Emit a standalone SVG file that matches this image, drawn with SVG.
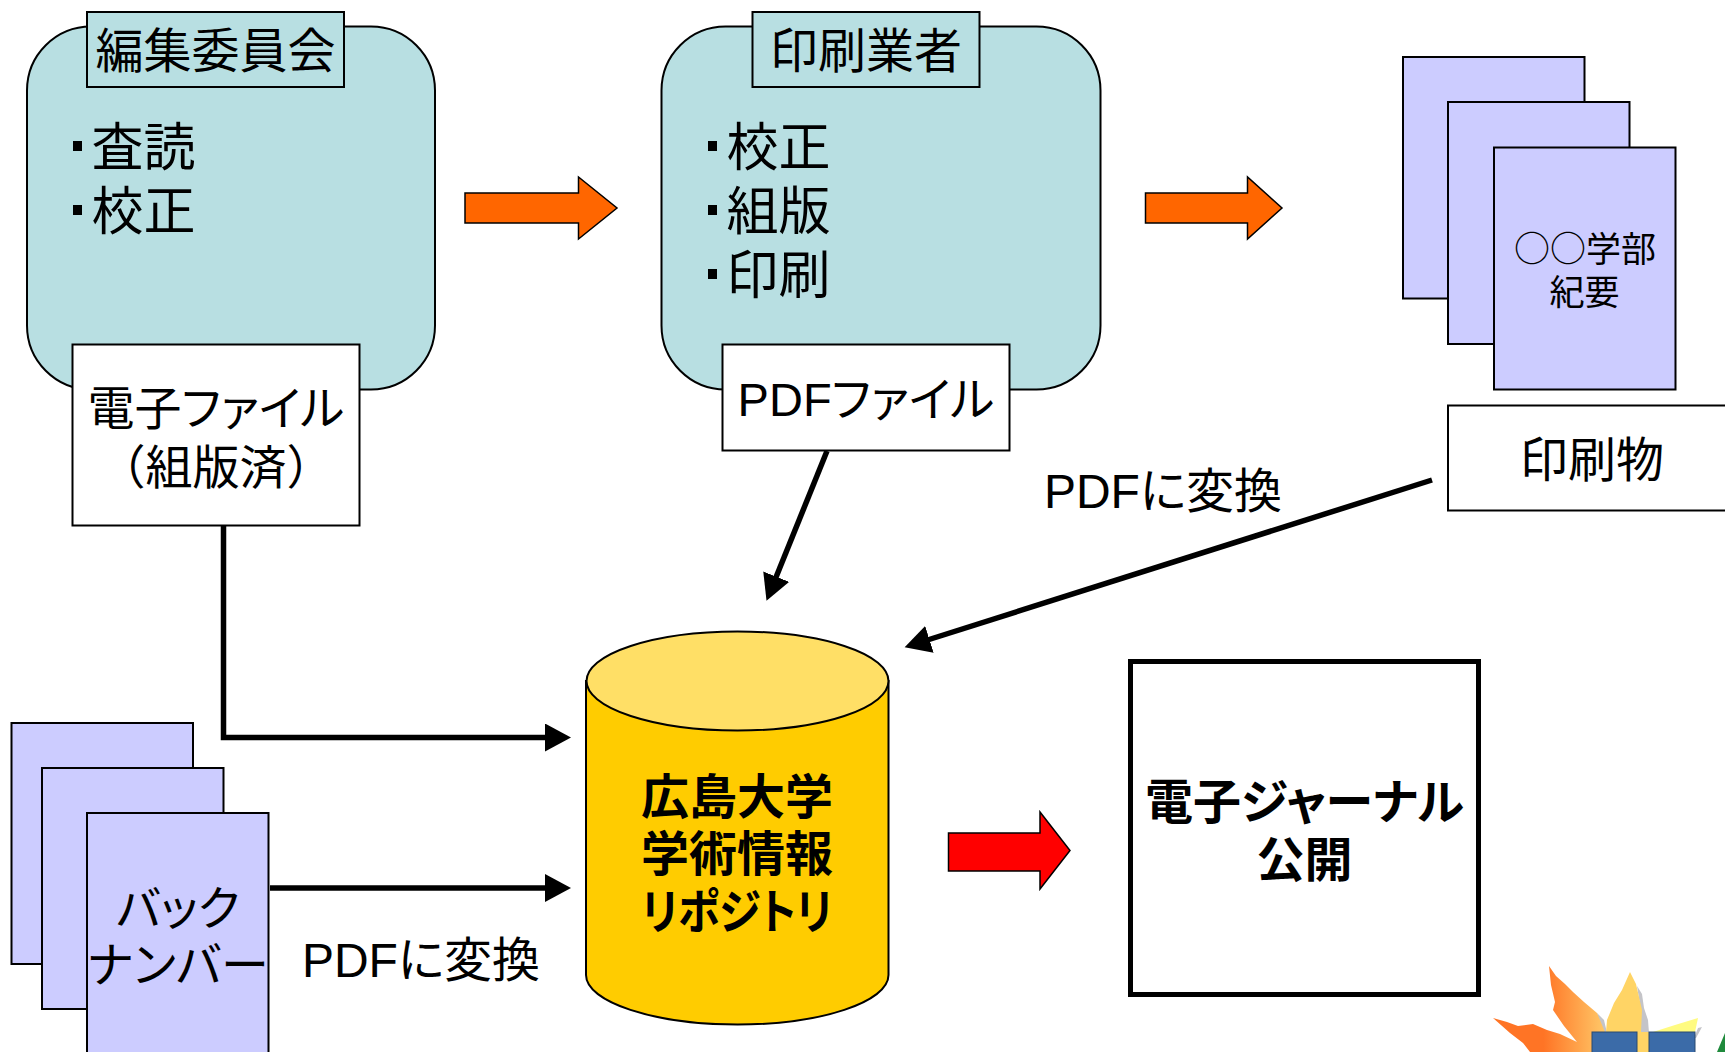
<svg xmlns="http://www.w3.org/2000/svg" width="1725" height="1052" viewBox="0 0 1725 1052">
<style>
text{font-family:"Liberation Sans","Noto Sans CJK JP",sans-serif;fill:#000;font-size:48px;font-feature-settings:"palt";text-anchor:middle}
.l{text-anchor:start;font-size:52px}
.f{font-size:47px}
.n{font-feature-settings:normal}
.b{font-weight:700;font-family:"Noto Sans CJK JP",sans-serif}
.s{font-size:35px;font-family:"Noto Sans CJK JP",sans-serif}
.c{font-size:36px;font-feature-settings:normal}
.teal{fill:#B8DFE2;stroke:#000;stroke-width:2}
.wh{fill:#fff;stroke:#000;stroke-width:2}
.pg{fill:#CCCCFF;stroke:#000;stroke-width:2}
.orange{fill:#FF6600;stroke:#000;stroke-width:1.5}
.conn{fill:none;stroke:#000;stroke-width:5.500}
.bul{fill:#000}
</style>
<defs>
<marker id="ah" markerUnits="userSpaceOnUse" markerWidth="30" markerHeight="30" refX="2" refY="14" orient="auto"><path d="M0 0L26 14L0 28Z" fill="#000"/></marker>
<linearGradient id="lf" x1="0" x2="1" y1="0" y2="0"><stop offset="0.45" stop-color="#FF7425"/><stop offset="1" stop-color="#FFC868"/></linearGradient>
</defs>
<g id="connectors">
<path class="conn" d="M223.500 526V737.500H547" marker-end="url(#ah)"/>
<path class="conn" d="M270 888H547" marker-end="url(#ah)"/>
<path class="conn" d="M827 451L775.500 578.500" marker-end="url(#ah)"/>
<path class="conn" d="M1432 480L927.500 640" marker-end="url(#ah)"/>
</g>
<g id="editors">
<rect class="teal" x="27" y="26.500" width="408" height="363" rx="64"/>
<rect class="teal" x="87" y="12" width="257" height="75"/>
<text x="215.500" y="68">編集委員会</text>
<rect class="bul" x="73" y="141" width="9" height="10"/>
<text class="l" x="91.500" y="166">査読</text>
<rect class="bul" x="73" y="205" width="9" height="10"/>
<text class="l" x="91.500" y="230">校正</text>
</g>
<g id="efile">
<rect class="wh" x="72.500" y="344.500" width="287" height="181"/>
<text class="f" x="216" y="425">電子ファイル</text>
<text class="f n" x="216" y="484">（組版済）</text>
</g>
<g id="arrow1"><path class="orange" d="M465 193H578.500V177L617 208L578.500 239V223H465Z"/></g>
<g id="printer">
<rect class="teal" x="661.500" y="26.500" width="439" height="363" rx="64"/>
<rect class="teal" x="752.500" y="12" width="227" height="75"/>
<text x="866" y="68">印刷業者</text>
<rect class="bul" x="708" y="141" width="9" height="10"/>
<text class="l" x="726.500" y="166">校正</text>
<rect class="bul" x="708" y="205" width="9" height="10"/>
<text class="l" x="726.500" y="230">組版</text>
<rect class="bul" x="708" y="269" width="9" height="10"/>
<text class="l" x="726.500" y="294">印刷</text>
</g>
<g id="pdffile">
<rect class="wh" x="722.500" y="344.500" width="287" height="106"/>
<text class="f" x="866" y="416">PDFファイル</text>
</g>
<g id="arrow2"><path class="orange" d="M1145.500 193H1247.500V177L1282 208L1247.500 239V223H1145.500Z"/></g>
<g id="bulletin">
<rect class="pg" x="1403" y="57" width="181.500" height="241.500"/>
<rect class="pg" x="1448" y="102" width="181.500" height="242"/>
<rect class="pg" x="1494" y="147.500" width="181.500" height="242"/>
<text class="s c" x="1585" y="262">○○<tspan class="s">学部</tspan></text>
<text class="s" x="1584.500" y="305">紀要</text>
</g>
<g id="print">
<rect class="wh" x="1448" y="405.500" width="290" height="105"/>
<text x="1592" y="477">印刷物</text>
</g>
<text id="label-pdf1" x="1163" y="508">PDFに変換</text>
<g id="repository">
<path d="M586 681V975C586 1002 654 1024.500 737.500 1024.500S888.500 1002 888.500 975V681Z" fill="#FFCC00" stroke="#000" stroke-width="2"/>
<ellipse cx="737.500" cy="681" rx="151" ry="49.500" fill="#FFDF66" stroke="#000" stroke-width="2"/>
<text class="b" x="737" y="814">広島大学</text>
<text class="b" x="737" y="871">学術情報</text>
<text class="b" x="737" y="929" textLength="191" lengthAdjust="spacingAndGlyphs">リポジトリ</text>
</g>
<g id="arrow3"><path d="M948.500 833H1040V812L1070 850.500L1040 889V871H948.500Z" fill="#FF0000" stroke="#000" stroke-width="1.500"/></g>
<g id="journal">
<rect x="1130.500" y="661.500" width="348" height="333" fill="#fff" stroke="#000" stroke-width="5"/>
<text class="b" x="1304.500" y="819">電子ジャーナル</text>
<text class="b" x="1304.500" y="877">公開</text>
</g>
<g id="backnumber">
<rect class="pg" x="11.500" y="723" width="181.500" height="241"/>
<rect class="pg" x="42" y="768" width="181.500" height="241"/>
<rect class="pg" x="87" y="813" width="181.500" height="250"/>
<text class="f" x="178" y="925">バック</text>
<text x="178" y="982">ナンバー</text>
</g>
<text id="label-pdf2" x="421" y="977">PDFに変換</text>
<path d="M1597 1013L1604 1020L1607 1033H1601Z" fill="#C4C4C8"/>
<path d="M1637 986L1642 994L1644 1008L1648 1020L1649 1033H1641L1640 1005Z" fill="#C4C4C8"/>
<path d="M1698 1028L1702 1027L1696 1038H1694Z" fill="#C4C4C8"/>
<path d="M1549 966L1556 976L1565 984L1573 992L1584 1002L1597 1013L1605 1032H1592V1052H1530L1523 1043L1510 1033L1493 1018L1507 1022L1518 1026L1533 1024L1547 1030L1560 1034L1577 1042L1564 1026L1553 1010L1555 1002L1551 985Z" fill="url(#lf)"/>
<path d="M1630 972L1636 984L1642 1010L1641 1032H1649V1052H1637V1032H1606L1607 1020L1614 1003L1622 990Z" fill="#FFD465"/>
<path d="M1653 1032L1675 1025L1698 1018L1695 1032Z" fill="#FFFB80"/>
<rect x="1592" y="1032" width="45" height="21" fill="#3B6BA8" stroke="#2A4A70" stroke-width="1"/>
<rect x="1649" y="1032" width="46" height="21" fill="#3B6BA8" stroke="#2A4A70" stroke-width="1"/>
<path d="M1725 1033L1717 1052H1725Z" fill="#1F8A3C"/>
</svg>
